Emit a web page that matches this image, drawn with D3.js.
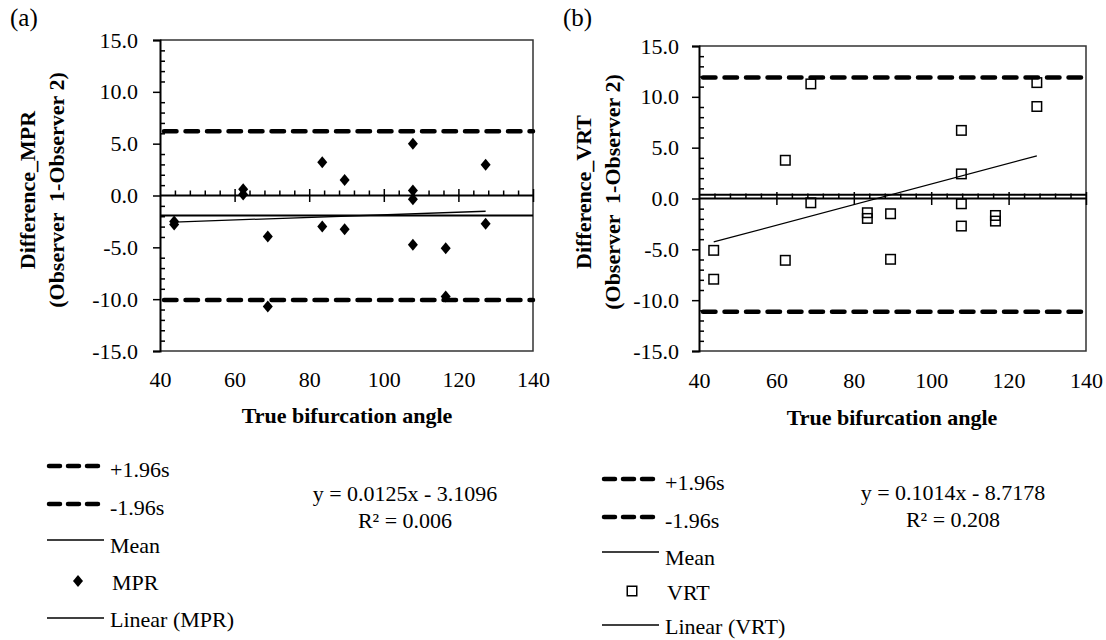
<!DOCTYPE html>
<html>
<head>
<meta charset="utf-8">
<script src="https://cdn.jsdelivr.net/npm/d3@7"></script>
<style>
	body { margin: 0; background: #fff; }
	svg text { font-family: "Liberation Serif", "Times New Roman", serif; fill: #000; }
</style>
</head>
<body>
<svg width="1106" height="640"></svg>
<script>
// values
const trueAngle = [43.8, 43.8, 62.3, 62.3, 68.9, 68.9, 83.5, 83.5, 89.5, 89.5,
	107.8, 107.8, 107.8, 107.8, 116.6, 116.6, 127.3, 127.3];
const mprDiff = [-2.5, -2.8, 0.6, 0.1, -3.95, -10.7, 3.2, -3.0, 1.5, -3.25,
	5.0, 0.48, -0.35, -4.76, -5.1, -9.75, 2.96, -2.73];
const vrtDiff = [-5.1, -7.94, 3.76, -6.08, 11.27, -0.42, -1.4, -1.96, -1.5, -5.98,
	6.7, 2.42, -0.52, -2.71, -1.67, -2.22, 11.4, 9.05];

const mprLimits = [6.2, -10.07];   // +1.96s, -1.96s
const mprMean = -1.93;
const vrtLimits = [11.9, -11.14];
const vrtMean = 0.38;

const mprFit = [0.0125, -3.1096];  // slope, intercept
const vrtFit = [0.1014, -8.7178];
const mprR2 = 0.006;
const vrtR2 = 0.208;

const xTicks = [40, 60, 80, 100, 120, 140];
const yTicks = [-15, -10, -5, 0, 5, 10, 15];
const legendLabels = ['+1.96s', '-1.96s', 'Mean'];

const fontSize = 22;
const svg = d3.select('svg');

const diamondPath = 'M0,-6L5,0L0,6L-5,0Z';

function drawMarker(sel, kind) {
	if (kind === 'diamond') {
		sel.append('path')
			.attr('d', diamondPath)
			.attr('fill', '#000');
	} else {
		sel.append('rect')
			.attr('x', -4.75).attr('y', -4.75)
			.attr('width', 9.5).attr('height', 9.5)
			.attr('fill', 'none')
			.attr('stroke', '#000')
			.attr('stroke-width', 1.5);
	}
}

function drawPanel(p) {
	const x = d3.scaleLinear().domain([40, 140]).range([p.left, p.right]);
	const y = d3.scaleLinear().domain([-15, 15]).range([p.bottom, p.top]);
	const g = svg.append('g');

	// plot area border
	g.append('path')
		.attr('d', `M${p.left},${p.top}H${p.right}V${p.bottom}H${p.left}`)
		.attr('fill', 'none')
		.attr('stroke', '#333')
		.attr('stroke-width', 1.5);

	// +/-1.96s limits
	g.selectAll('line.limit')
		.data(p.limits)
		.join('line')
			.attr('class', 'limit')
			.attr('x1', x(40) + 4).attr('x2', x(140))
			.attr('y1', d => y(d)).attr('y2', d => y(d))
			.attr('stroke', '#000')
			.attr('stroke-width', 4.5)
			.attr('stroke-linecap', 'round')
			.attr('stroke-dasharray', '12.5 9');

	// mean
	g.append('line')
		.attr('x1', x(40)).attr('x2', x(140))
		.attr('y1', y(p.mean)).attr('y2', y(p.mean))
		.attr('stroke', '#000')
		.attr('stroke-width', 2);

	// y axis: major ticks outside, minor inside
	const yAxis = g.append('g')
		.attr('transform', `translate(${p.left},0)`)
		.call(d3.axisLeft(y)
			.tickValues(yTicks)
			.tickSize(7)
			.tickPadding(p.yPad)
			.tickFormat(d => d.toFixed(1)));
	yAxis.select('.domain').attr('stroke', '#000').attr('stroke-width', 2);
	yAxis.selectAll('.tick line').attr('stroke-width', 1.5);
	yAxis.selectAll('text').attr('font-size', fontSize).attr('font-family', null);

	const yMinor = d3.range(-15, 16, 1).filter(v => v % 5 !== 0);
	const yMinorAxis = g.append('g')
		.attr('transform', `translate(${p.left},0)`)
		.call(d3.axisRight(y).tickValues(yMinor).tickSize(5).tickFormat(''));
	yMinorAxis.select('.domain').remove();
	yMinorAxis.selectAll('.tick line').attr('stroke-width', 1.5);

	// x axis crossing at zero
	g.append('line')
		.attr('x1', x(40)).attr('x2', x(140))
		.attr('y1', y(0)).attr('y2', y(0))
		.attr('stroke', '#000')
		.attr('stroke-width', 2);
	const xMajor = g.append('g')
		.attr('transform', `translate(0,${y(0) - 6.5})`)
		.call(d3.axisBottom(x).tickValues(xTicks.slice(1)).tickSize(13).tickFormat(''));
	xMajor.select('.domain').remove();
	xMajor.selectAll('.tick line').attr('stroke-width', 1.5);

	const xMinor = d3.range(40, 141, 4).filter(v => v % 20 !== 0);
	const xMinorAxis = g.append('g')
		.attr('transform', `translate(0,${y(0)})`)
		.call(d3.axisTop(x).tickValues(xMinor).tickSize(5).tickFormat(''));
	xMinorAxis.select('.domain').remove();
	xMinorAxis.selectAll('.tick line').attr('stroke-width', 1.5);

	// x tick labels sit below the plot
	const xLabels = g.append('g')
		.attr('transform', `translate(0,${p.bottom})`)
		.call(d3.axisBottom(x).tickValues(xTicks).tickSize(0).tickPadding(p.xPad));
	xLabels.select('.domain').remove();
	xLabels.selectAll('text').attr('font-size', fontSize).attr('font-family', null);

	// regression line over the data range
	const [xMin, xMax] = d3.extent(trueAngle);
	g.append('line')
		.attr('x1', x(xMin)).attr('y1', y(p.fit[0] * xMin + p.fit[1]))
		.attr('x2', x(xMax)).attr('y2', y(p.fit[0] * xMax + p.fit[1]))
		.attr('stroke', '#000')
		.attr('stroke-width', 1.3);

	// points
	g.append('g')
		.selectAll('g')
		.data(trueAngle.map((a, i) => [a, p.values[i]]))
		.join('g')
			.attr('transform', d => `translate(${x(d[0])},${y(d[1])})`)
			.each(function () { drawMarker(d3.select(this), p.marker); });

	// axis titles
	g.append('text')
		.attr('x', p.xTitleX).attr('y', p.xTitleY)
		.attr('text-anchor', 'middle')
		.attr('font-size', fontSize)
		.attr('font-weight', 'bold')
		.text('True bifurcation angle');

	const yt = g.append('text')
		.attr('transform', `translate(${p.yTitleX},${p.yTitleY}) rotate(-90)`)
		.attr('text-anchor', 'middle')
		.attr('font-size', fontSize)
		.attr('font-weight', 'bold')
		.style('white-space', 'pre');
	yt.append('tspan').attr('x', 0).attr('y', 0).text(p.yTitle);
	yt.append('tspan').attr('x', 0).attr('y', 29).text('(Observer  1-Observer 2)');

	g.append('text')
		.attr('x', p.tagX).attr('y', 26)
		.attr('font-size', 25)
		.text(p.tag);

	// legend
	const lg = g.append('g');
	const rows = p.legendBase;
	legendLabels.forEach((lab, i) => {
		const isDash = i < 2;
		lg.append('line')
			.attr('x1', p.legX0 + (isDash ? 2 : 0))
			.attr('x2', isDash ? p.legX0 + 51 : p.legX0 + 57)
			.attr('y1', rows[i] - (isDash ? 11 : 13))
			.attr('y2', rows[i] - (isDash ? 11 : 13))
			.attr('stroke', '#000')
			.attr('stroke-width', isDash ? 4.5 : 1.3)
			.attr('stroke-linecap', isDash ? 'round' : 'butt')
			.attr('stroke-dasharray', isDash ? '11 8' : null);
		lg.append('text')
			.attr('x', p.legText).attr('y', rows[i])
			.attr('font-size', fontSize)
			.text(lab);
	});
	const mk = lg.append('g').attr('transform', `translate(${p.legMarkX},${rows[3] - 9})`);
	drawMarker(mk, p.marker);
	lg.append('text')
		.attr('x', p.legText + 2).attr('y', rows[3])
		.attr('font-size', fontSize)
		.text(p.series);
	lg.append('line')
		.attr('x1', p.legX0).attr('x2', p.legX0 + 57)
		.attr('y1', rows[4] - 9).attr('y2', rows[4] - 9)
		.attr('stroke', '#000')
		.attr('stroke-width', 1.3);
	lg.append('text')
		.attr('x', p.legText).attr('y', rows[4])
		.attr('font-size', fontSize)
		.text(`Linear (${p.series})`);

	// equation
	const sign = p.fit[1] < 0 ? '-' : '+';
	g.append('text')
		.attr('x', p.eqX).attr('y', p.eqY)
		.attr('text-anchor', 'middle')
		.attr('font-size', fontSize)
		.text(`y = ${p.fit[0]}x ${sign} ${Math.abs(p.fit[1])}`);
	g.append('text')
		.attr('x', p.eqX).attr('y', p.eqY + 27)
		.attr('text-anchor', 'middle')
		.attr('font-size', fontSize)
		.text(`R² = ${p.r2.toFixed(3)}`);
}

drawPanel({
	left: 160, right: 533, top: 40, bottom: 351,
	yPad: 15, xPad: 20,
	limits: mprLimits, mean: mprMean, fit: mprFit, r2: mprR2,
	values: mprDiff, marker: 'diamond', series: 'MPR',
	yTitle: 'Difference_MPR', yTitleX: 35, yTitleY: 190,
	xTitleX: 347, xTitleY: 423,
	tag: '(a)', tagX: 10,
	legendBase: [477, 515, 553, 590, 627],
	legX0: 47, legText: 110, legMarkX: 78,
	eqX: 405, eqY: 501,
});

drawPanel({
	left: 699, right: 1086, top: 46, bottom: 351,
	yPad: 13, xPad: 21,
	limits: vrtLimits, mean: vrtMean, fit: vrtFit, r2: vrtR2,
	values: vrtDiff, marker: 'square', series: 'VRT',
	yTitle: 'Difference_VRT', yTitleX: 591, yTitleY: 192,
	xTitleX: 892, xTitleY: 425,
	tag: '(b)', tagX: 563,
	legendBase: [490, 528, 565, 600, 634],
	legX0: 602, legText: 665, legMarkX: 632,
	eqX: 953, eqY: 500,
});
</script>
</body>
</html>
